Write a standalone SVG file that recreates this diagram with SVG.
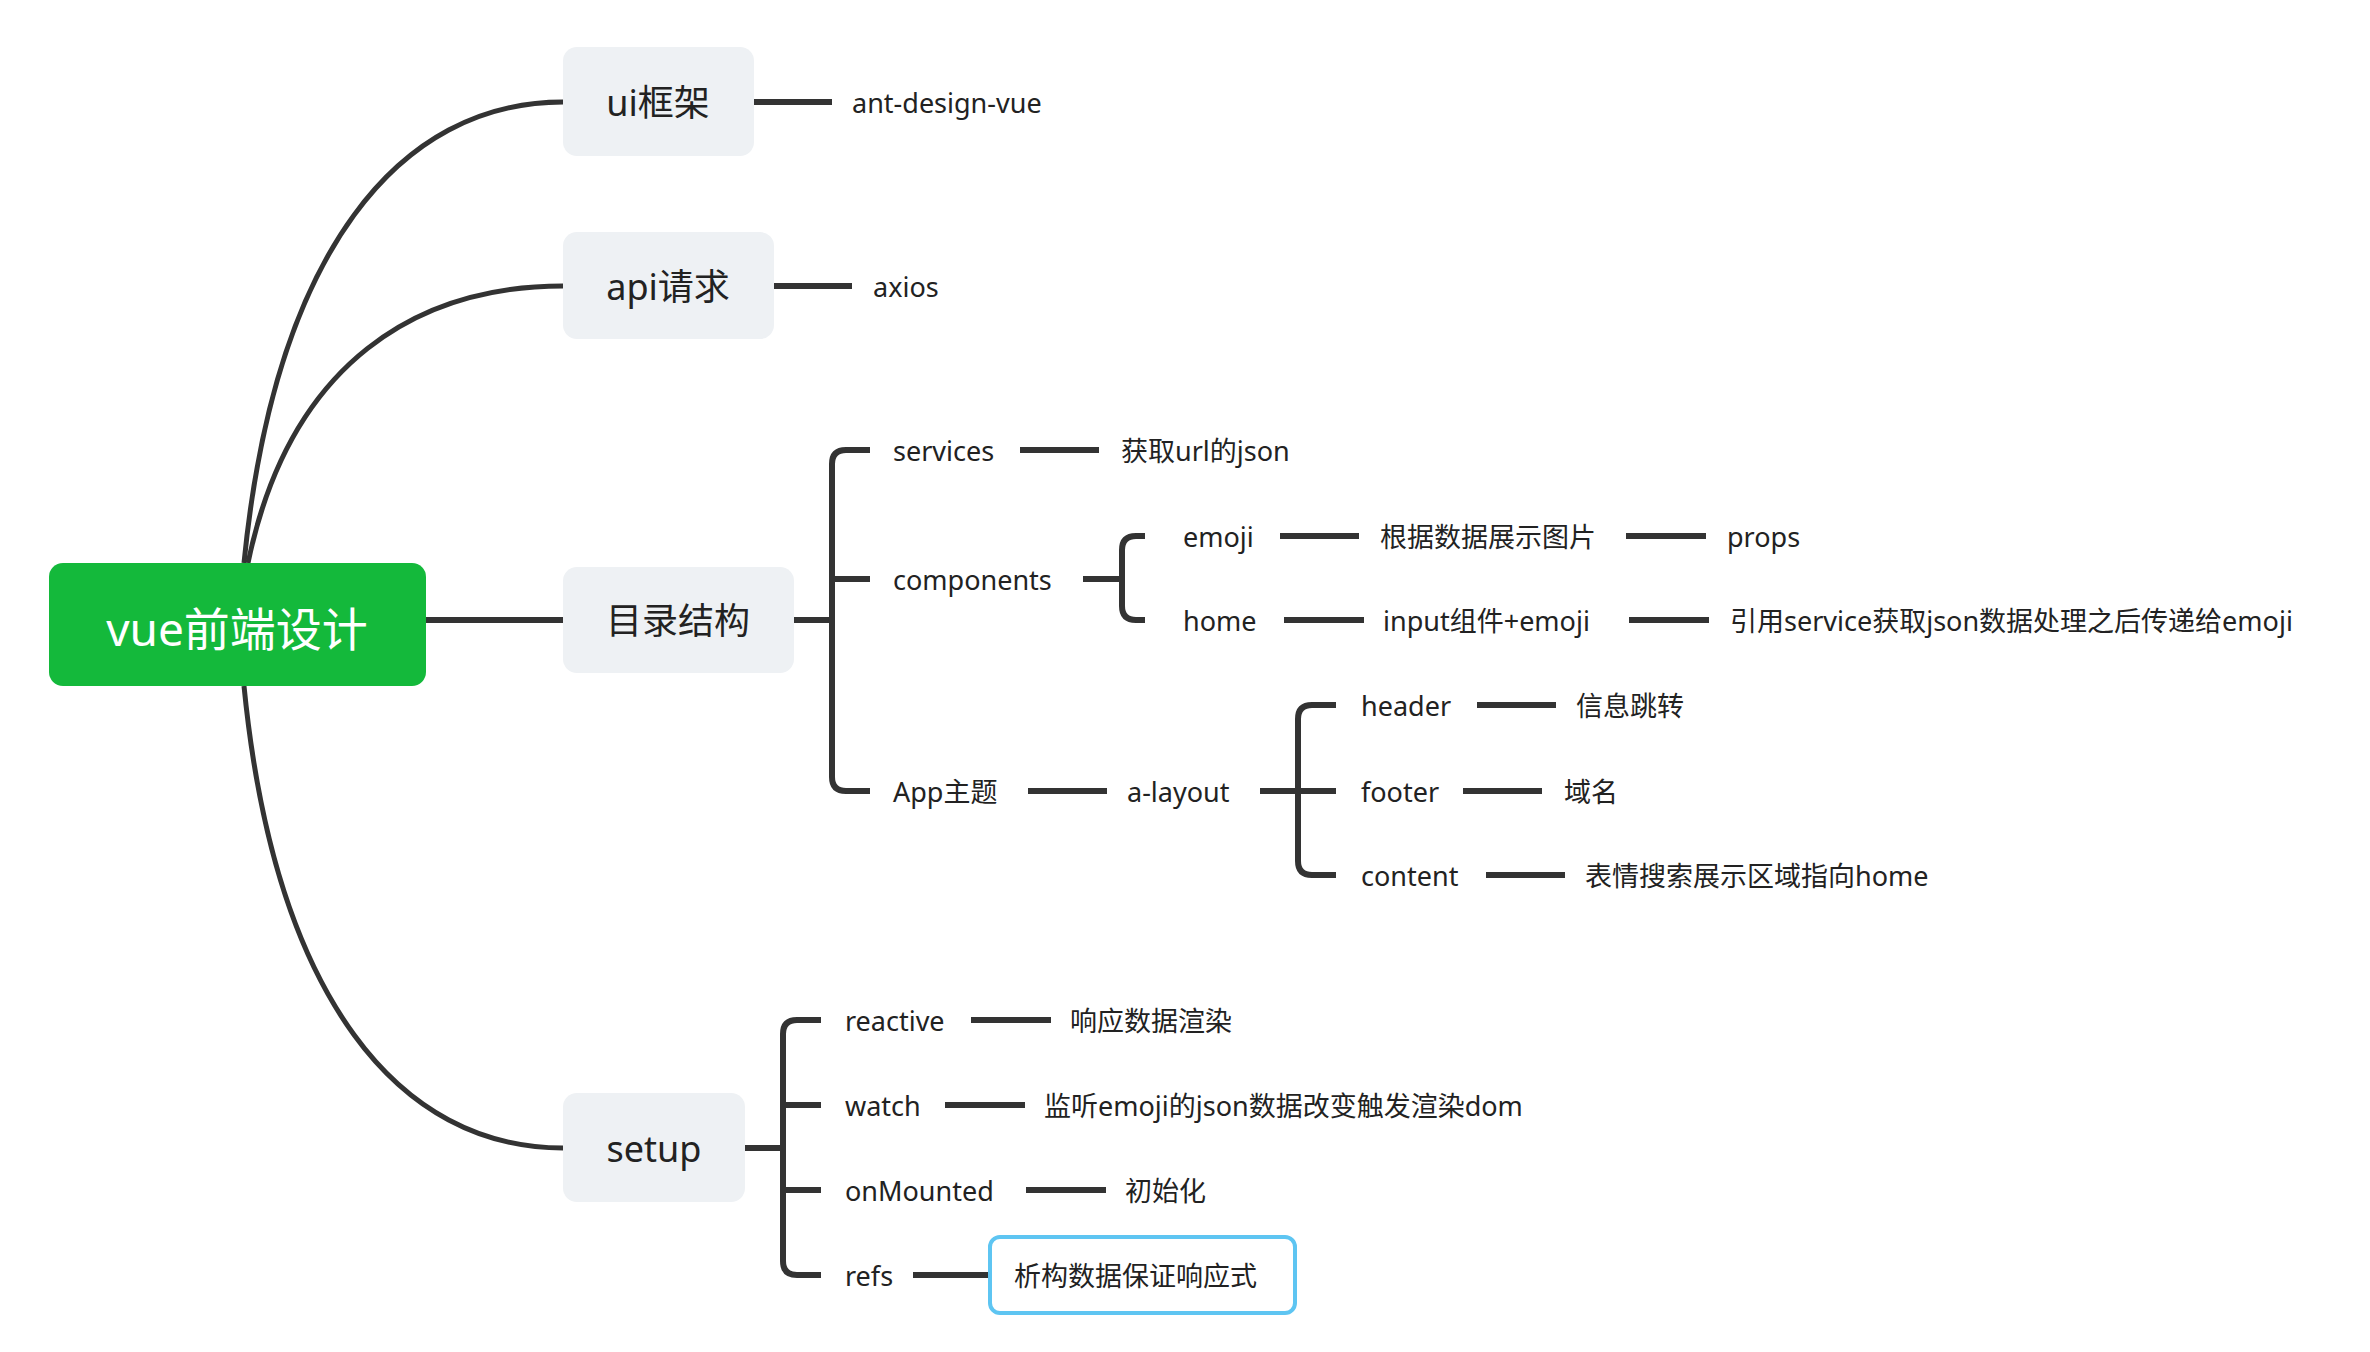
<svg xmlns="http://www.w3.org/2000/svg" width="2370" height="1352" viewBox="0 0 2370 1352">
<style>
text{font-family:"Noto Sans","Noto Sans CJK SC",sans-serif;fill:#222;dominant-baseline:central}
.leaf{font-size:27px}
.main{font-size:36px}
.c{fill:none;stroke:#333;stroke-width:5;stroke-linecap:butt}
.l{fill:none;stroke:#333;stroke-width:6}
.box{fill:#eef1f4}
</style>
<rect width="2370" height="1352" fill="#fff"/>
<g id="connectors">
<path class="c" d="M244 563 C 275 250 400 102 563 102"/>
<path class="c" d="M248 563 C 290 360 420 286 563 286"/>
<path class="c" d="M244 686 C 275 1000 400 1148 563 1148"/>
<path class="l" d="M426 620 H563"/>
<path class="l" d="M754 102 H832"/>
<path class="l" d="M774 286 H852"/>
<path class="l" d="M794 620 H832"/>
<path class="l" d="M870 450 H846 Q832 450 832 464 V777 Q832 791 846 791 H870 M832 579 Q832 579 846 579 H870"/>
<path class="l" d="M1020 450 H1099"/>
<path class="l" d="M1083 579 H1122"/>
<path class="l" d="M1145 536 H1136 Q1122 536 1122 550 V606 Q1122 620 1136 620 H1145"/>
<path class="l" d="M1280 536 H1359 M1626 536 H1706"/>
<path class="l" d="M1284 620 H1364 M1629 620 H1709"/>
<path class="l" d="M1028 791 H1107 M1260 791 H1298"/>
<path class="l" d="M1336 705 H1312 Q1298 705 1298 719 V861 Q1298 875 1312 875 H1336 M1298 791 H1336"/>
<path class="l" d="M1477 705 H1556 M1463 791 H1542 M1486 875 H1565"/>
<path class="l" d="M745 1148 H783"/>
<path class="l" d="M821 1020 H797 Q783 1020 783 1034 V1261 Q783 1275 797 1275 H821 M783 1105 Q783 1105 797 1105 H821 M783 1190 Q783 1190 797 1190 H821"/>
<path class="l" d="M971 1020 H1051 M945 1105 H1025 M1026 1190 H1106 M913 1275 H990"/>
</g>
<g id="root"><rect x="49" y="563" width="377" height="123" rx="14" fill="#14b93b"/><text x="237" y="628" text-anchor="middle" style="font-size:46px;fill:#fff">vue前端设计</text></g>
<g id="ui"><rect class="box" x="563" y="47" width="191" height="109" rx="14"/><text class="main" x="658" y="102" text-anchor="middle">ui框架</text></g>
<g id="api"><rect class="box" x="563" y="232" width="211" height="107" rx="14"/><text class="main" x="668" y="286" text-anchor="middle">api请求</text></g>
<g id="dir"><rect class="box" x="563" y="567" width="231" height="106" rx="14"/><text class="main" x="678" y="620" text-anchor="middle">目录结构</text></g>
<g id="setup"><rect class="box" x="563" y="1093" width="182" height="109" rx="14"/><text class="main" x="654" y="1148" text-anchor="middle">setup</text></g>
<g id="leaves" class="leaf">
<text class="leaf" x="852" y="102">ant-design-vue</text>
<text class="leaf" x="873" y="286">axios</text>
<text class="leaf" x="893" y="450">services</text>
<text class="leaf" x="1121" y="450">获取url的json</text>
<text class="leaf" x="893" y="579">components</text>
<text class="leaf" x="1183" y="536">emoji</text>
<text class="leaf" x="1380" y="536">根据数据展示图片</text>
<text class="leaf" x="1727" y="536">props</text>
<text class="leaf" x="1183" y="620">home</text>
<text class="leaf" x="1383" y="620">input组件+emoji</text>
<text class="leaf" x="1730" y="620">引用service获取json数据处理之后传递给emoji</text>
<text class="leaf" x="893" y="791">App主题</text>
<text class="leaf" x="1127" y="791">a-layout</text>
<text class="leaf" x="1361" y="705">header</text>
<text class="leaf" x="1576" y="705">信息跳转</text>
<text class="leaf" x="1361" y="791">footer</text>
<text class="leaf" x="1564" y="791">域名</text>
<text class="leaf" x="1361" y="875">content</text>
<text class="leaf" x="1585" y="875">表情搜索展示区域指向home</text>
<text class="leaf" x="845" y="1020">reactive</text>
<text class="leaf" x="1070" y="1020">响应数据渲染</text>
<text class="leaf" x="845" y="1105">watch</text>
<text class="leaf" x="1044" y="1105">监听emoji的json数据改变触发渲染dom</text>
<text class="leaf" x="845" y="1190">onMounted</text>
<text class="leaf" x="1125" y="1190">初始化</text>
<text class="leaf" x="845" y="1275">refs</text>
</g>
<g id="refs-box"><rect x="990" y="1237" width="305" height="76" rx="10" fill="#fff" stroke="#5ec5f2" stroke-width="4"/><text class="leaf" x="1014" y="1275">析构数据保证响应式</text></g>
</svg>
